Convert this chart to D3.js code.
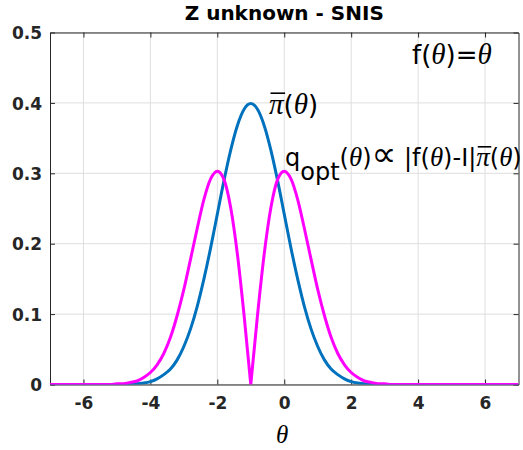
<!DOCTYPE html>
<html><head><meta charset="utf-8">
<script src="https://cdn.jsdelivr.net/npm/d3@7"></script>
<style>body{margin:0;background:#fff}svg{display:block}</style>
</head><body>
<script>
const theta = [-7,-6.8,-6.6,-6.4,-6.2,-6,-5.8,-5.6,-5.4,-5.2,-5,-4.8,-4.6,-4.4,-4.2,-4,-3.8,-3.6,-3.4,-3.2,-3,-2.8,-2.6,-2.4,-2.2,-2,-1.8,-1.6,-1.4,-1.2,-1,-0.8,-0.6,-0.4,-0.2,0,0.2,0.4,0.6,0.8,1,1.2,1.4,1.6,1.8,2,2.2,2.4,2.6,2.8,3,3.2,3.4,3.6,3.8,4,4.2,4.4,4.6,4.8,5,5.2,5.4,5.6,5.8,6,6.2,6.4,6.6,6.8,7];
const piBar = [0,0,0,0,0,0,0,0,0,0,0,0,0.001,0.001,0.002,0.004,0.008,0.014,0.022,0.035,0.054,0.079,0.111,0.150,0.194,0.242,0.290,0.333,0.368,0.391,0.399,0.391,0.368,0.333,0.290,0.242,0.194,0.150,0.111,0.079,0.054,0.035,0.022,0.014,0.008,0.004,0.002,0.001,0.001,0,0,0,0,0,0,0,0,0,0,0,0,0,0,0,0,0,0,0,0,0,0];
const qOpt = [0,0,0,0,0,0,0,0,0,0,0.001,0.001,0.003,0.005,0.010,0.017,0.028,0.044,0.067,0.098,0.135,0.178,0.222,0.263,0.292,0.303,0.291,0.251,0.185,0.098,0,0.098,0.185,0.251,0.291,0.303,0.292,0.263,0.222,0.178,0.135,0.098,0.067,0.044,0.028,0.017,0.010,0.005,0.003,0.001,0.001,0,0,0,0,0,0,0,0,0,0,0,0,0,0,0,0,0,0,0,0];
const xTicks = [-6,-4,-2,0,2,4,6];
const xTickLabels = ["-6","-4","-2","0","2","4","6"];
const yTicks = [0,0.1,0.2,0.3,0.4,0.5];
const yTickLabels = ["0","0.1","0.2","0.3","0.4","0.5"];
const title = "Z unknown - SNIS";

const W = 523, H = 450;
const L = 50, R = 518.5, T = 32.5, B = 384.5;
const svg = d3.select("body").append("svg").attr("width", W).attr("height", H);
const x = d3.scaleLinear().domain([-7, 7]).range([L, R]);
const y = d3.scaleLinear().domain([0, 0.5]).range([B, T]);
const axisColor = "#262626";

// grid
const grid = svg.append("g").attr("stroke", "#dedede").attr("stroke-width", 1);
xTicks.forEach(t => grid.append("line").attr("x1", x(t)).attr("x2", x(t)).attr("y1", T).attr("y2", B));
yTicks.forEach(t => grid.append("line").attr("y1", y(t)).attr("y2", y(t)).attr("x1", L).attr("x2", R));

// axes
const tickFont = "'DejaVu Sans', sans-serif";
const xAxis = svg.append("g").attr("transform", `translate(0,${B})`)
  .call(d3.axisBottom(x).tickValues(xTicks).tickSizeInner(-5).tickSizeOuter(0).tickPadding(12).tickFormat((d, i) => xTickLabels[i]));
const yAxis = svg.append("g").attr("transform", `translate(${L},0)`)
  .call(d3.axisLeft(y).tickValues(yTicks).tickSizeInner(-5).tickSizeOuter(0).tickPadding(8).tickFormat((d, i) => yTickLabels[i]));
const xTop = svg.append("g").attr("transform", `translate(0,${T})`)
  .call(d3.axisTop(x).tickValues(xTicks).tickSizeInner(-5).tickSizeOuter(0).tickFormat(""));
const yRight = svg.append("g").attr("transform", `translate(${R},0)`)
  .call(d3.axisRight(y).tickValues(yTicks).tickSizeInner(-5).tickSizeOuter(0).tickFormat(""));
[xAxis, yAxis, xTop, yRight].forEach(a => {
  a.selectAll("path").attr("stroke", axisColor).attr("stroke-width", 1);
  a.selectAll("line").attr("stroke", axisColor).attr("stroke-width", 1);
  a.selectAll("text").attr("fill", axisColor).attr("font-family", tickFont)
    .attr("font-weight", "bold").attr("font-size", 17);
});
yAxis.selectAll("text").attr("dy", "0.36em");

// lines (magenta split at its cusp so the V stays sharp)
svg.append("clipPath").attr("id", "clip").append("rect")
  .attr("x", L).attr("y", T).attr("width", R - L).attr("height", B - T);
const lineGen = (vals, i0, i1) => d3.line().curve(d3.curveMonotoneX)
  .x(d => x(d[0])).y(d => y(d[1]))(theta.map((t, i) => [t, vals[i]]).slice(i0, i1 + 1));
const cusp = qOpt.indexOf(0, 20);
const plot = svg.append("g").attr("clip-path", "url(#clip)");
plot.append("path").attr("d", lineGen(piBar, 0, theta.length - 1)).attr("fill", "none")
  .attr("stroke", "#0072BD").attr("stroke-width", 3).attr("stroke-linejoin", "round");
plot.append("path").attr("d", lineGen(qOpt, 0, cusp) + lineGen(qOpt, cusp, theta.length - 1).replace(/^M/, "L"))
  .attr("fill", "none").attr("stroke", "#FF00FF").attr("stroke-width", 3).attr("stroke-linejoin", "miter");

// title
svg.append("text").attr("x", (L + R) / 2).attr("y", 20).attr("text-anchor", "middle")
  .attr("font-family", tickFont).attr("font-weight", "bold").attr("font-size", 20)
  .attr("fill", "#000").text(title);

// x label
svg.append("text").attr("x", (L + R) / 2 - 2).attr("y", 443).attr("text-anchor", "middle")
  .attr("font-family", "'Liberation Serif', serif").attr("font-style", "italic")
  .attr("font-size", 25).attr("fill", "#000").text("θ");

// rich annotations
const sans = "'DejaVu Sans', sans-serif";
const serif = "'Liberation Serif', serif";
function rich(x0, y0, parts, fs) {
  const t = svg.append("text").attr("x", x0).attr("y", y0).attr("font-size", fs)
    .attr("font-family", sans).attr("fill", "#000");
  let str = "";
  const bars = [];
  parts.forEach(p => {
    const s = t.append("tspan").text(p.t);
    if (p.it) s.attr("font-family", serif).attr("font-style", "italic").attr("font-size", fs * 1.12);
    if (p.sym) s.attr("font-family", "'DejaVu Sans', sans-serif").attr("font-size", fs * 1.45);
    if (p.dy) s.attr("dy", p.dy);
    if (p.bar) bars.push(str.length);
    str += p.t;
  });
  const node = t.node();
  bars.forEach(i => {
    const a = node.getStartPositionOfChar(i), b = node.getEndPositionOfChar(i);
    svg.append("line").attr("x1", a.x + 1.5).attr("x2", b.x + 1.5)
      .attr("y1", a.y - fs * 0.8).attr("y2", a.y - fs * 0.8)
      .attr("stroke", "#000").attr("stroke-width", 1.6);
  });
  return t;
}
rich(412, 64, [{t: "f("}, {t: "θ", it: true}, {t: ")="}, {t: "θ", it: true}], 26);
rich(269, 114, [{t: "π", it: true, bar: true}, {t: "("}, {t: "θ", it: true}, {t: ")"}], 26);
rich(285, 166, [{t: "q"}, {t: "opt", dy: 14}, {t: "(", dy: -14}, {t: "θ", it: true}, {t: ")"},
  {t: "∝", sym: true}, {t: " |f("},
  {t: "θ", it: true}, {t: ")-I|"}, {t: "π", it: true, bar: true}, {t: "("}, {t: "θ", it: true}, {t: ")"}], 24);
</script>
</body></html>
